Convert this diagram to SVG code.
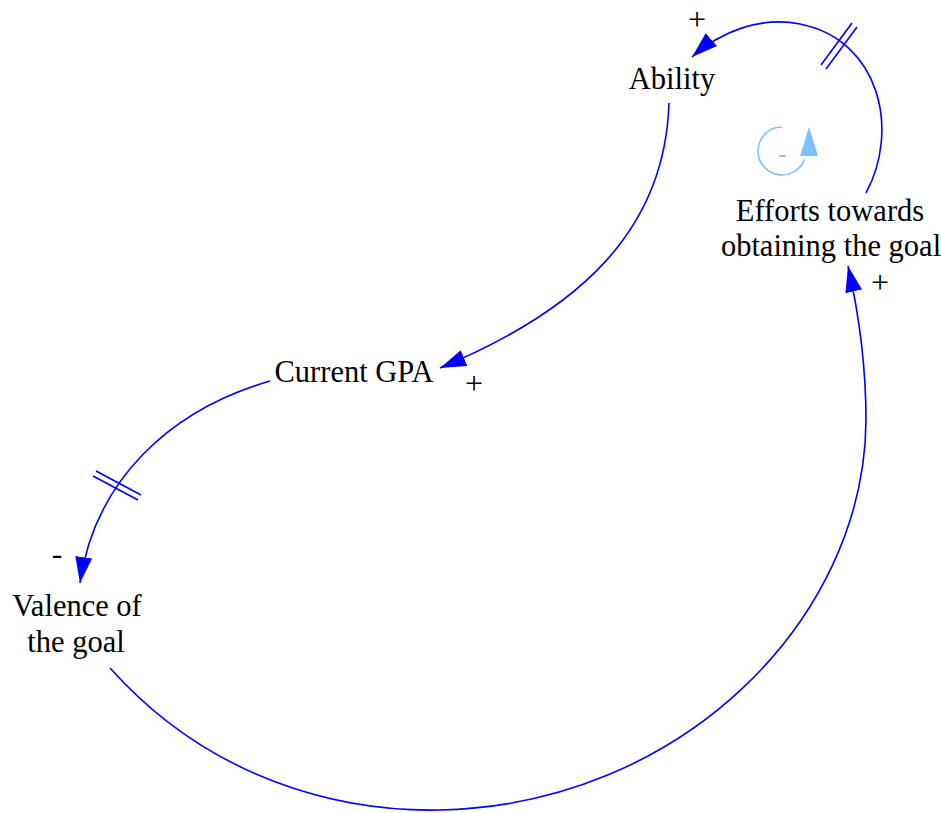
<svg xmlns="http://www.w3.org/2000/svg" width="941" height="813" viewBox="0 0 941 813">
<style>
.lbl{font-family:"Liberation Serif","Times New Roman",serif;font-size:30.5px;fill:#000;text-anchor:middle}
.sign{font-family:"Liberation Serif","Times New Roman",serif;font-size:32px;fill:#000;text-anchor:middle}
.link{fill:none;stroke:#0000FF;stroke-width:1.6}
.hash{stroke:#0000FF;stroke-width:1.6}
.loop{fill:none;stroke:#80C0FF;stroke-width:1.6}
</style>
<defs>
<marker id="ah" markerUnits="userSpaceOnUse" markerWidth="27" markerHeight="18" refX="26" refY="8.5" orient="auto">
<path d="M0,0 L26,8.5 L0,17 z" fill="#0000FF"/>
</marker>
</defs>
<rect width="941" height="813" fill="#fff"/>
<g id="connectors">
<path class="link" d="M866,193 C900,130 880,40 800,24 C760,16 720,32 692,57" marker-end="url(#ah)"/>
<line class="hash" x1="821" y1="65" x2="852" y2="23"/>
<line class="hash" x1="826" y1="69" x2="857" y2="27"/>
<path class="link" d="M669,103 C665,230 580,310 440,368" marker-end="url(#ah)"/>
<path class="link" d="M270,381 C170,410 95,480 80,583" marker-end="url(#ah)"/>
<line class="hash" x1="96" y1="471" x2="141" y2="495"/>
<line class="hash" x1="93" y1="476" x2="138" y2="500"/>
<path class="link" d="M110,668 C210,780 340,812 440,810 C680,805 865,620 866,420 C866,360 858,310 848,266" marker-end="url(#ah)"/>
<text class="sign" x="697" y="30">+</text>
<text class="sign" x="474" y="394">+</text>
<text class="sign" x="880" y="293">+</text>
<text class="sign" x="57" y="564">-</text>
</g>
<g id="loop">
<path class="loop" d="M782,127 A24,24 0 1 0 804.6,159.2"/>
<polygon points="809,127 818,156 800,156" fill="#80C0FF"/>
<text x="782" y="163" font-family="Liberation Sans, Arial, sans-serif" font-size="26" fill="#80C0FF" text-anchor="middle">-</text>
</g>
<g id="ability"><text class="lbl" x="672" y="89">Ability</text></g>
<g id="current-gpa"><text class="lbl" x="354" y="382">Current GPA</text></g>
<g id="efforts"><text class="lbl" x="830" y="221">Efforts towards</text><text class="lbl" x="831" y="256">obtaining the goal</text></g>
<g id="valence"><text class="lbl" x="77" y="616">Valence of</text><text class="lbl" x="76" y="652">the goal</text></g>
</svg>
